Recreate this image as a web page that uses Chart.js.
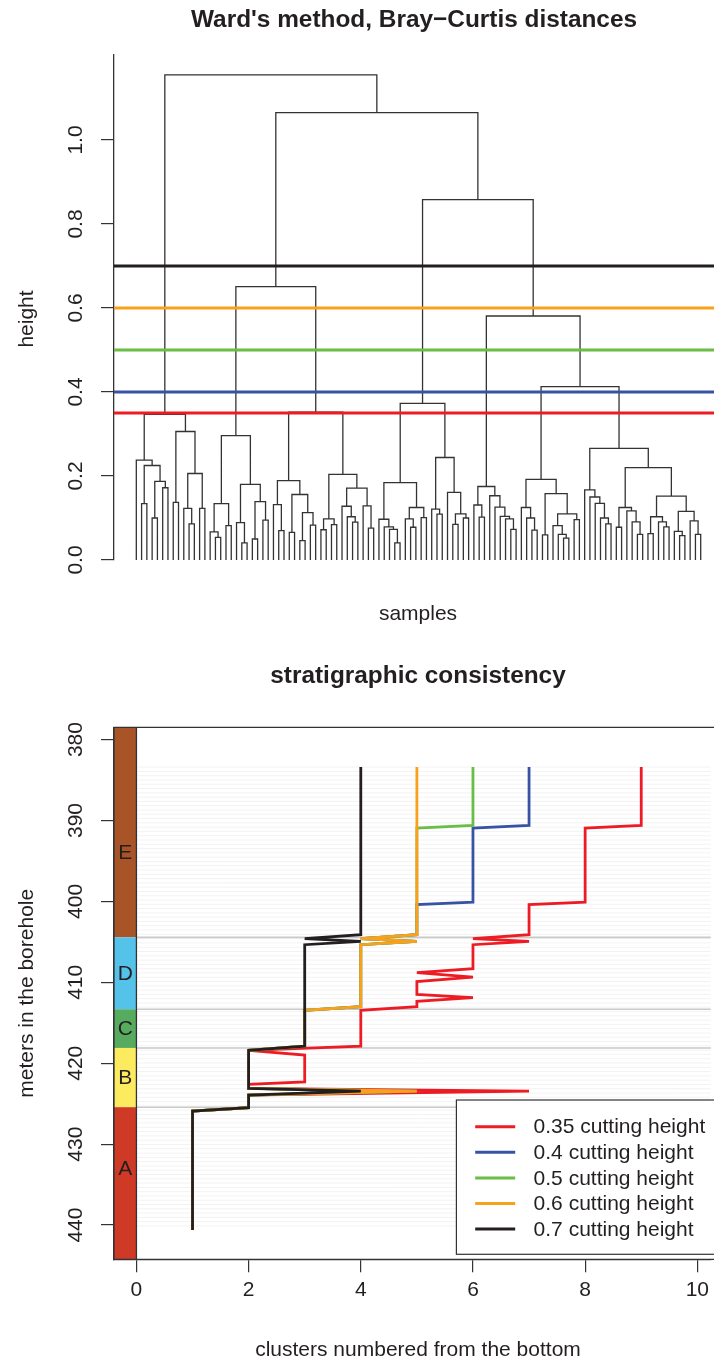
<!DOCTYPE html>
<html>
<head>
<meta charset="utf-8">
<title>Ward's method, Bray−Curtis distances</title>
<script src="https://cdn.jsdelivr.net/npm/chart.js@4.4.1/dist/chart.umd.min.js"></script>
<style>
  html, body { margin: 0; padding: 0; background: #ffffff; }
  .panel { position: absolute; left: 0; width: 714px; }
  #top { top: 0; height: 640px; }
  #bottom { top: 640px; height: 720px; }
</style>
</head>
<body>
<div class="panel" id="top"><canvas id="dendro"></canvas></div>
<div class="panel" id="bottom"><canvas id="strat"></canvas></div>
<script>
const FONT = "'Liberation Sans', Arial, Helvetica, sans-serif";
const INK = '#231f20';
const TEXT_SIZE = 21;
const TITLE_SIZE = 24.4;

// ---- cutting heights (shared by both panels) ----
const cutHeights = [0.35, 0.4, 0.5, 0.6, 0.7];
const cutColors = ['#ed1c24', '#3953a4', '#6abd45', '#f9a11b', '#231f20'];

// ---- dendrogram: each merge is [left, right, height]; 0 is a single sample ----
const groupL = [
  [0, [[0, 0, 0.134], [[0, 0, 0.100], [0, 0, 0.172], 0.187], 0.225], 0.238],
  [[0, 0, 0.137], [[0, [0, 0, 0.086], 0.123], [0, 0, 0.123], 0.206], 0.306],
  0.347];
const group236 = [
  [[0, [0, 0, 0.054], 0.067], [0, 0, 0.082], 0.134],
  [[0, [0, 0, 0.041], 0.089], [[0, 0, 0.050], [0, 0, 0.095], 0.139], 0.180],
  0.296];
const group316 = [
  [[0, [0, 0, 0.070], 0.132], [[0, 0, 0.066], [[0, 0, 0.046], [0, 0, 0.083], 0.113], 0.156], 0.189],
  [[[0, 0, 0.072], [0, 0, 0.084], 0.098],
   [[0, [0, [0, 0, 0.090], 0.103], 0.128], [0, [0, 0, 0.076], 0.129], 0.171], 0.204],
  0.352];
const group400 = [
  [0, [0, [0, [0, 0, 0.041], 0.073], 0.079], 0.097],
  [[0, [0, 0, 0.078], 0.098], [0, 0, 0.101], 0.125],
  0.184];
const group445 = [
  [0, [0, 0, 0.109], 0.121],
  [0, [[0, 0, 0.085], [0, 0, 0.100], 0.110], 0.161],
  0.244];
const group486 = [
  [0, [0, 0, 0.102], 0.131],
  [0, [0, [0, [0, [0, 0, 0.073], 0.098], 0.104], 0.126], 0.153],
  0.175];
const group541 = [
  [0, [0, [0, 0, 0.071], 0.100], 0.125],
  [[0, 0, 0.060], [[0, [0, [0, 0, 0.052], 0.061], 0.082], [0, 0, 0.096], 0.110], 0.158],
  0.192];
const group590 = [0, [0, [0, [0, [0, 0, 0.086], 0.100], 0.135], 0.150], 0.167];
const group625 = [[0, 0, 0.078], [0, [0, [0, 0, 0.061], 0.091], 0.117], 0.125];
const group671 = [
  [[0, 0, 0.063], [0, [0, 0, 0.079], 0.091], 0.103],
  [[0, [0, 0, 0.058], 0.068], [0, [0, 0, 0.061], 0.093], 0.116],
  0.152];
const clusterTree = [
  groupL,
  [[group236, group316, 0.651],
   [[group400, group445, 0.373],
    [group486, [group541, [group590, [group625, group671, 0.220], 0.266], 0.413], 0.581],
    0.858],
   1.065],
  1.155];

const heightTicks = [0, 0.2, 0.4, 0.6, 0.8, 1.0];
const heightRange = [0, 1.2024];
const leafRange = [-4.23, 109.52];

// ---- stratigraphic panel ----
const depthTicks = [380, 390, 400, 410, 420, 430, 440];
const clusterTicks = [0, 2, 4, 6, 8, 10];
const depthRange = [378.48, 444.23];
const clusterRange = [-0.4, 10.24];

const sampleTop = 383.4;
const sampleBase = 440.6;
const sampleStep = 0.53;

const unitNames = ['E', 'D', 'C', 'B', 'A'];
const unitTop = [383.4, 404.44, 413.33, 418.11, 425.43];
const unitBase = [404.44, 413.33, 418.11, 425.43, 440.6];
const unitColors = ['#a85426', '#55c2ea', '#57ab5f', '#fdeb5f', '#cf3a26'];

const depthCut035 = [383.4, 390.6, 390.95, 400.1, 400.4, 404.1, 404.6, 404.95, 405.35, 408.3, 408.8, 409.35, 409.9,
  411.5, 411.9, 412.35, 413.0, 413.45, 417.9, 418.4, 419.0, 422.3, 422.6, 423.1, 423.45, 423.95, 425.5, 425.9, 440.6];
const clusterCut035 = [9, 9, 8, 8, 7, 7, 6, 7, 6, 6, 5, 6, 5, 5, 6, 5, 5, 4, 4, 2, 3, 3, 2, 2, 7, 2, 2, 1, 1];

const depthCut04 = [383.4, 390.6, 390.95, 400.1, 400.4, 404.1, 404.6, 404.95, 405.35, 413.0, 413.45, 417.9, 418.4,
  423.1, 423.45, 423.95, 425.5, 425.9, 440.6];
const clusterCut04 = [7, 7, 6, 6, 5, 5, 4, 5, 4, 4, 3, 3, 2, 2, 5, 2, 2, 1, 1];

const depthCut05 = [383.4, 390.6, 390.95, 404.1, 404.6, 404.95, 405.35, 413.0, 413.45, 417.9, 418.4, 423.1, 423.45,
  423.95, 425.5, 425.9, 440.6];
const clusterCut05 = [6, 6, 5, 5, 4, 5, 4, 4, 3, 3, 2, 2, 5, 2, 2, 1, 1];

const depthCut06 = [383.4, 404.1, 404.6, 404.95, 405.35, 413.0, 413.45, 417.9, 418.4, 423.1, 423.45, 423.95, 425.5,
  425.9, 440.6];
const clusterCut06 = [5, 5, 4, 5, 4, 4, 3, 3, 2, 2, 5, 2, 2, 1, 1];

const depthCut07 = [383.4, 404.1, 404.6, 404.95, 405.35, 417.9, 418.4, 423.1, 423.45, 423.95, 425.5, 425.9, 440.6];
const clusterCut07 = [4, 4, 3, 4, 3, 3, 2, 2, 4, 2, 2, 1, 1];

const cutSeries = [
  [clusterCut035, depthCut035],
  [clusterCut04, depthCut04],
  [clusterCut05, depthCut05],
  [clusterCut06, depthCut06],
  [clusterCut07, depthCut07]
];

// ---- helpers ----
// Walks the merge tree, numbering samples left to right; each merge becomes
// a bracket (left leg, crossbar, right leg) followed by a gap.
function treeSegments(tree) {
  const pts = [];
  let next = 0;
  function walk(node) {
    if (node === 0) return { x: next++, h: 0 };
    const a = walk(node[0]);
    const b = walk(node[1]);
    const h = node[2];
    pts.push({ x: a.x, y: a.h }, { x: a.x, y: h }, { x: b.x, y: h }, { x: b.x, y: b.h }, { x: NaN, y: NaN });
    return { x: (a.x + b.x) / 2, h };
  }
  walk(tree);
  return pts;
}

const axisGrid = { display: true, drawOnChartArea: false, drawTicks: true, tickLength: 13, color: '#333', lineWidth: 1.2 };
const axisBorder = { display: true, color: '#333', width: 1.3 };
const tickFont = { family: FONT, size: TEXT_SIZE };

// ---- top panel: dendrogram ----
const dendroText = {
  id: 'dendroText',
  afterDraw(chart) {
    const { ctx, chartArea: a } = chart;
    ctx.save();
    ctx.fillStyle = INK;
    ctx.textAlign = 'center';
    ctx.textBaseline = 'middle';
    ctx.font = `bold ${TITLE_SIZE}px ${FONT}`;
    ctx.fillText("Ward's method, Bray\u2212Curtis distances", a.left + 300, 20);
    ctx.font = `${TEXT_SIZE}px ${FONT}`;
    ctx.fillText('samples', a.left + 304, 614);
    ctx.translate(27, 319);
    ctx.rotate(-Math.PI / 2);
    ctx.fillText('height', 0, 0);
    ctx.restore();
  }
};

new Chart(document.getElementById('dendro'), {
  type: 'scatter',
  data: {
    datasets: [
      {
        label: 'tree',
        data: treeSegments(clusterTree),
        showLine: true,
        spanGaps: false,
        borderColor: '#333333',
        borderWidth: 1.3,
        pointRadius: 0,
        order: 10
      },
      ...cutHeights.map((h, i) => ({
        label: `${h} cutting height`,
        data: [{ x: leafRange[0], y: h }, { x: leafRange[1], y: h }],
        showLine: true,
        borderColor: cutColors[i],
        borderWidth: 3,
        pointRadius: 0,
        order: 5 - i
      }))
    ]
  },
  options: {
    responsive: true,
    maintainAspectRatio: false,
    devicePixelRatio: 1,
    animation: false,
    events: [],
    layout: { padding: { top: 55, bottom: 80, left: 0, right: 0 } },
    plugins: { legend: { display: false }, tooltip: { enabled: false }, title: { display: false } },
    scales: {
      x: { type: 'linear', display: false, min: leafRange[0], max: leafRange[1] },
      y: {
        type: 'linear',
        min: heightRange[0],
        max: heightRange[1],
        afterBuildTicks: s => { s.ticks = heightTicks.map(v => ({ value: v })); },
        afterFit: s => { s.width = 114; },
        ticks: {
          font: tickFont, color: INK, minRotation: 90, maxRotation: 90, autoSkip: false,
          crossAlign: 'center', padding: 10.5,
          callback: v => Number(v).toFixed(1)
        },
        grid: axisGrid,
        border: axisBorder
      }
    }
  },
  plugins: [dendroText]
});

// ---- bottom panel: cluster number against depth ----
const stratDecor = {
  id: 'stratDecor',
  beforeDatasetsDraw(chart) {
    const { ctx, chartArea: a, scales: { x, y } } = chart;
    const x0 = x.getPixelForValue(0);
    ctx.save();
    // faint line at each sample level
    ctx.strokeStyle = 'rgba(0,0,0,0.05)';
    ctx.lineWidth = 1;
    for (let d = sampleTop; d <= sampleBase + 1e-9; d += sampleStep) {
      const py = y.getPixelForValue(d);
      ctx.beginPath(); ctx.moveTo(x0, py); ctx.lineTo(a.right, py); ctx.stroke();
    }
    // unit boundaries across the plot
    ctx.strokeStyle = '#c9c9c9';
    ctx.lineWidth = 1.6;
    for (let i = 1; i < unitNames.length; i++) {
      const py = y.getPixelForValue(unitTop[i]);
      ctx.beginPath(); ctx.moveTo(x0, py); ctx.lineTo(a.right, py); ctx.stroke();
    }
    // lithological column
    for (let i = 0; i < unitNames.length; i++) {
      const t = i === 0 ? a.top : y.getPixelForValue(unitTop[i]);
      const b = i === unitNames.length - 1 ? a.bottom : y.getPixelForValue(unitBase[i]);
      ctx.fillStyle = unitColors[i];
      ctx.fillRect(a.left, t, x0 - a.left, b - t);
    }
    ctx.fillStyle = INK;
    ctx.font = `${TEXT_SIZE}px ${FONT}`;
    ctx.textAlign = 'center';
    ctx.textBaseline = 'middle';
    for (let i = 0; i < unitNames.length; i++) {
      const mid = y.getPixelForValue((unitTop[i] + unitBase[i]) / 2);
      ctx.fillText(unitNames[i], (a.left + x0) / 2, mid + 1);
    }
    ctx.restore();
  },
  afterDatasetsDraw(chart) {
    const { ctx, chartArea: a, scales: { x } } = chart;
    const x0 = x.getPixelForValue(0);
    ctx.save();
    // frame and column edge
    ctx.strokeStyle = '#333';
    ctx.lineWidth = 1.3;
    ctx.beginPath();
    ctx.moveTo(a.right + 5, a.top); ctx.lineTo(a.left, a.top); ctx.lineTo(a.left, a.bottom); ctx.lineTo(a.right + 5, a.bottom);
    ctx.moveTo(x0, a.top); ctx.lineTo(x0, a.bottom);
    ctx.stroke();
    // legend
    const lx = 456.4, ly = 460, lw = 270, lh = 154.3;
    ctx.fillStyle = '#ffffff';
    ctx.fillRect(lx, ly, lw, lh);
    ctx.strokeStyle = '#333';
    ctx.lineWidth = 1.2;
    ctx.strokeRect(lx, ly, lw, lh);
    ctx.font = `${TEXT_SIZE}px ${FONT}`;
    ctx.textAlign = 'left';
    ctx.textBaseline = 'middle';
    chart.data.datasets.forEach((ds, i) => {
      const ry = ly + 26.7 + i * 25.6;
      ctx.strokeStyle = ds.borderColor;
      ctx.lineWidth = 3;
      ctx.beginPath(); ctx.moveTo(lx + 18.8, ry); ctx.lineTo(lx + 58.8, ry); ctx.stroke();
      ctx.fillStyle = INK;
      ctx.fillText(ds.label, lx + 77.2, ry + 1);
    });
    ctx.restore();
  },
  afterDraw(chart) {
    const { ctx, chartArea: a } = chart;
    ctx.save();
    ctx.fillStyle = INK;
    ctx.textAlign = 'center';
    ctx.textBaseline = 'middle';
    ctx.font = `bold ${TITLE_SIZE}px ${FONT}`;
    ctx.fillText('stratigraphic consistency', a.left + 304, 36);
    ctx.font = `${TEXT_SIZE}px ${FONT}`;
    ctx.fillText('clusters numbered from the bottom', a.left + 304, 710);
    ctx.translate(27, (a.top + a.bottom) / 2);
    ctx.rotate(-Math.PI / 2);
    ctx.fillText('meters in the borehole', 0, 0);
    ctx.restore();
  }
};

new Chart(document.getElementById('strat'), {
  type: 'scatter',
  data: {
    datasets: cutSeries.map(([cl, dp], i) => ({
      label: `${cutHeights[i]} cutting height`,
      data: cl.map((c, k) => ({ x: c, y: dp[k] })),
      showLine: true,
      borderColor: cutColors[i],
      borderWidth: 2.8,
      borderJoinStyle: 'miter',
      pointRadius: 0,
      order: 5 - i
    }))
  },
  options: {
    responsive: true,
    maintainAspectRatio: false,
    devicePixelRatio: 1,
    animation: false,
    events: [],
    layout: { padding: { top: 87.3, bottom: 0, left: 0, right: 0 } },
    plugins: { legend: { display: false }, tooltip: { enabled: false }, title: { display: false } },
    scales: {
      x: {
        type: 'linear',
        min: clusterRange[0],
        max: clusterRange[1],
        afterBuildTicks: s => { s.ticks = clusterTicks.map(v => ({ value: v })); },
        afterFit: s => { s.height = 100.7; },
        ticks: { font: tickFont, color: INK, padding: 5, maxRotation: 0, autoSkip: false },
        grid: axisGrid,
        border: axisBorder
      },
      y: {
        type: 'linear',
        reverse: true,
        min: depthRange[0],
        max: depthRange[1],
        afterBuildTicks: s => { s.ticks = depthTicks.map(v => ({ value: v })); },
        afterFit: s => { s.width = 114; },
        ticks: {
          font: tickFont, color: INK, minRotation: 90, maxRotation: 90, autoSkip: false,
          crossAlign: 'center', padding: 7.5,
          callback: v => String(v)
        },
        grid: axisGrid,
        border: axisBorder
      }
    }
  },
  plugins: [stratDecor]
});
</script>
</body>
</html>
